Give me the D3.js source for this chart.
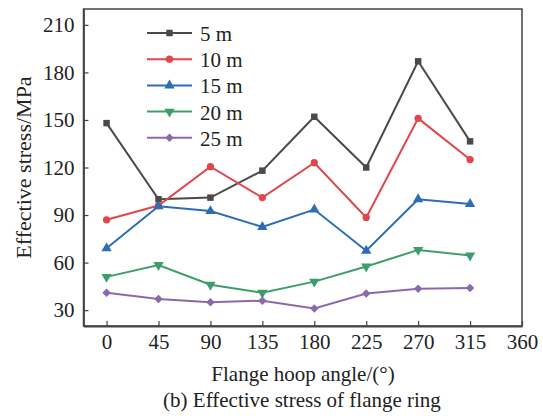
<!DOCTYPE html>
<html>
<head>
<meta charset="utf-8">
<script src="https://cdn.jsdelivr.net/npm/d3@7"></script>
<style>
  body { margin: 0; background: #fff; }
  svg text { font-family: "Liberation Serif", "Times New Roman", serif; fill: #222; }
</style>
</head>
<body>
<div class="canvas"></div>
<script>
const angles = [0, 45, 90, 135, 180, 225, 270, 315];
const seriesNames = ["5 m", "10 m", "15 m", "20 m", "25 m"];
const stress5 = [148, 100, 101, 118, 152, 120, 187, 136.5];
const stress10 = [87, 96, 120.5, 101, 123, 88.5, 151, 125];
const stress15 = [69, 95.5, 92.5, 82.5, 93.5, 67.5, 100, 97];
const stress20 = [51, 58.5, 46, 41, 48, 57.5, 68, 64.5];
const stress25 = [41, 37, 35, 36, 31, 40.5, 43.5, 44];
const xTicks = [0, 45, 90, 135, 180, 225, 270, 315, 360];
const yTicks = [30, 60, 90, 120, 150, 180, 210];

const colors = ["#4a4a4a", "#e0474c", "#2c6db3", "#3c9e6b", "#8c69ab"];
// symbol type and rotation for each series
const symbols = [
  [d3.symbolSquare, 42, 0],
  [d3.symbolCircle, 42, 0],
  [d3.symbolTriangle, 46, 0],
  [d3.symbolTriangle, 46, 180],
  [d3.symbolSquare, 36, 45],
];

const width = 543;
const height = 419;
const margin = { top: 9, right: 21, bottom: 93, left: 83.5 };
const fontSize = 21;

const series = seriesNames.map((name, i) => ({
  name,
  values: [stress5, stress10, stress15, stress20, stress25][i],
  color: colors[i],
  symbol: symbols[i],
}));

const svg = d3
  .select(".canvas")
  .append("svg")
  .attr("width", width)
  .attr("height", height);

const x = d3.scaleLinear().domain([-20, 360]).range([margin.left, width - margin.right]);
const y = d3.scaleLinear().domain([20, 220]).range([height - margin.bottom, margin.top]);

function marker(g, s, cx, cy) {
  const [type, size, rot] = s.symbol;
  g.append("path")
    .attr("d", d3.symbol(type, size)())
    .attr("transform", `translate(${cx},${cy}) rotate(${rot})`)
    .attr("fill", s.color);
}

// frame
svg.append("rect")
  .attr("x", margin.left)
  .attr("y", margin.top)
  .attr("width", width - margin.right - margin.left)
  .attr("height", height - margin.bottom - margin.top)
  .attr("fill", "none")
  .attr("stroke", "#444")
  .attr("stroke-width", 1.5);

const xAxis = d3.axisBottom(x).tickValues(xTicks).tickSizeInner(-5).tickSizeOuter(0).tickPadding(8);
const yAxis = d3.axisLeft(y).tickValues(yTicks).tickSizeInner(-5).tickSizeOuter(0).tickPadding(9);

const gx = svg.append("g")
  .attr("transform", `translate(0,${height - margin.bottom})`)
  .call(xAxis);
const gy = svg.append("g")
  .attr("transform", `translate(${margin.left},0)`)
  .call(yAxis);

[gx, gy].forEach((g) => {
  g.select(".domain").attr("stroke", "#444").attr("stroke-width", 1.8);
  g.selectAll(".tick line").attr("stroke", "#444").attr("stroke-width", 1.2);
  g.selectAll(".tick text")
    .attr("font-size", fontSize)
    .attr("fill", "#222");
});

const line = d3.line()
  .x((d, i) => x(angles[i]))
  .y((d) => y(d));

series.forEach((s) => {
  svg.append("path")
    .datum(s.values)
    .attr("d", line)
    .attr("fill", "none")
    .attr("stroke", s.color)
    .attr("stroke-width", 2);
  const g = svg.append("g");
  s.values.forEach((v, i) => marker(g, s, x(angles[i]), y(v)));
});

// legend
const legend = svg.append("g").attr("transform", "translate(147,33)");
series.forEach((s, i) => {
  const row = legend.append("g").attr("transform", `translate(0,${i * 26.2})`);
  row.append("line")
    .attr("x1", 0).attr("x2", 45)
    .attr("stroke", s.color).attr("stroke-width", 2);
  marker(row, s, 22.5, 0);
  row.append("text")
    .attr("x", 53)
    .attr("y", 8)
    .attr("font-size", fontSize)
    .text(s.name);
});

svg.append("text")
  .attr("transform", `translate(31,${(margin.top + height - margin.bottom) / 2}) rotate(-90)`)
  .attr("text-anchor", "middle")
  .attr("font-size", 22)
  .text("Effective stress/MPa");

svg.append("text")
  .attr("x", 303)
  .attr("y", 381)
  .attr("text-anchor", "middle")
  .attr("font-size", fontSize)
  .text("Flange hoop angle/(°)");

svg.append("text")
  .attr("x", 302)
  .attr("y", 407)
  .attr("text-anchor", "middle")
  .attr("font-size", fontSize)
  .text("(b) Effective stress of flange ring");
</script>
</body>
</html>
